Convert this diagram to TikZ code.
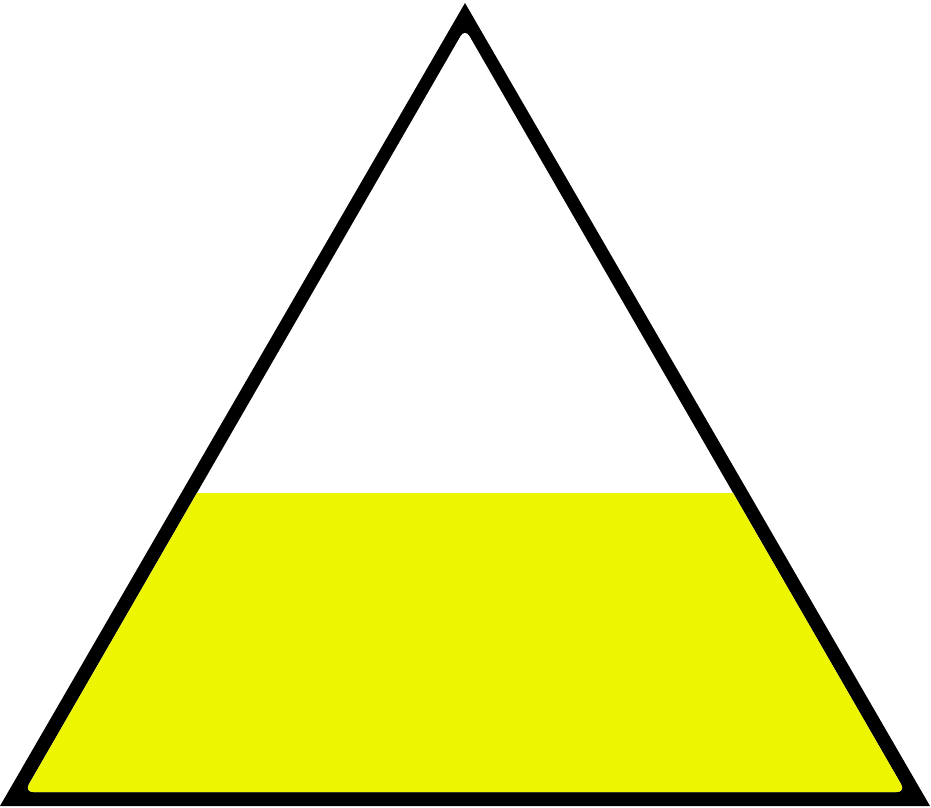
\documentclass[tikz,border=0pt]{standalone}
\usepackage{xcolor}
\usepackage{tikz}
\definecolor{myyellow}{RGB}{237,245,0}
\definecolor{mydark}{RGB}{0,0,0}
\tikzset{
  rim/.style={fill=mydark},
  inside/.style={fill=white, rounded corners=5},
  level/.style={fill=myyellow}
}
\begin{document}
\begin{tikzpicture}[x=0.02cm, y=-0.02cm]
  \useasboundingbox (0,0) rectangle (931,808);
  % Outer triangle
  \coordinate (A) at (0,806);
  \coordinate (B) at (930,806);
  \coordinate (C) at (465,3);
  \fill[rim] (A) -- (B) -- (C) -- cycle;

  % Inner triangle
  \coordinate (a) at (24.5,792);
  \coordinate (b) at (905.5,792);
  \coordinate (c) at (465,28.5);
  \fill[inside] (a) -- (b) -- (c) -- cycle;

  % Liquid level
  \begin{scope}
    \clip[rounded corners=5] (a) -- (b) -- (c) -- cycle;
    \fill[level] (0,493) rectangle (931,800);
  \end{scope}
\end{tikzpicture}
\end{document}
